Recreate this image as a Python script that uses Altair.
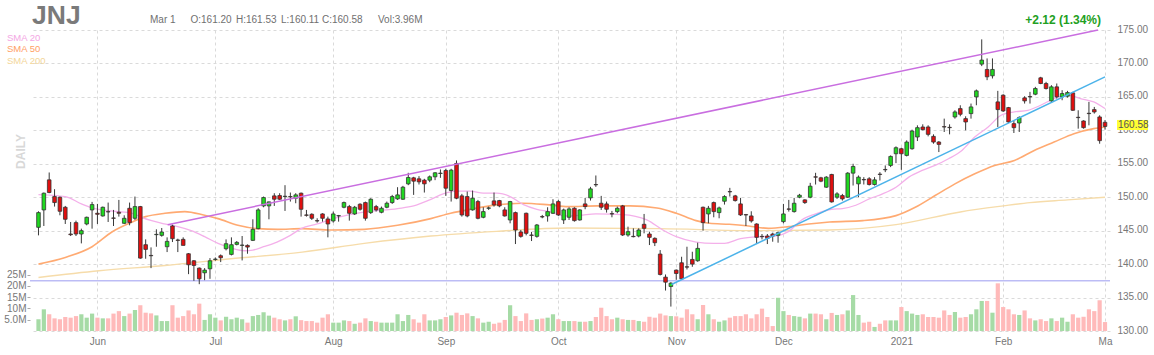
import altair as alt
import pandas as pd

FONT = "Liberation Sans, Arial, Helvetica, sans-serif"

# ---------------- data ----------------
opens = [145.5, 148.1, 152.6, 150.1, 150.0, 148.5, 144.5, 146.2, 144.5, 146.0,
         148.1, 147.6, 147.2, 147.85, 146.9, 147.75, 146.1, 148.35, 146.85, 148.6,
         142.9, 141.3, 144.4, 144.3, 142.6, 145.7, 143.6, 143.7, 141.55, 140.5,
         139.4, 138.7, 139.3, 140.7, 141.25, 142.3, 141.45, 142.95, 142.8, 142.8,
         143.55, 145.3, 148.7, 148.7, 150.2, 150.25, 150.1, 150.1, 149.85, 150.6,
         147.35, 147.45, 146.5, 147.5, 146.75, 146.45, 147.2, 148.5, 148.6, 147.5,
         148.95, 149.2, 147.7, 148.6, 147.75, 148.5, 149.2, 149.75, 149.7, 152.0,
         152.9, 152.75, 152.55, 152.55, 153.05, 153.55, 154.0, 151.0, 155.05, 150.2,
         150.1, 148.1, 149.35, 147.0, 148.35, 149.45, 149.5, 148.1, 146.6, 147.7,
         144.8, 147.6, 144.35, 144.15, 147.1, 147.2, 147.6, 149.35, 146.6, 147.0,
         148.35, 146.6, 149.0, 149.9, 151.9, 149.1, 149.0, 147.55, 147.85, 148.7,
         144.35, 144.15, 144.2, 145.95, 144.5, 143.85, 141.5, 138.05, 136.65, 139.1,
         140.2, 139.6, 140.7, 140.5, 148.5, 147.5, 149.2, 147.7, 149.4, 150.85,
         150.2, 149.0, 147.4, 147.2, 146.0, 144.15, 144.2, 144.5, 144.3, 146.35,
         148.25, 147.85, 150.0, 149.6, 150.0, 153.05, 152.9, 151.5, 153.4, 150.0,
         150.25, 150.0, 153.6, 152.0, 152.65, 152.75, 151.9, 153.45, 154.15, 154.75,
         156.5, 157.25, 156.25, 157.25, 159.0, 160.5, 160.5, 159.1, 158.25, 160.55,
         160.45, 162.0, 163.25, 161.75, 162.5, 165.0, 169.9, 169.1, 168.15, 164.25,
         165.25, 163.4, 161.0, 161.1, 164.85, 165.05, 165.4, 167.85, 167.0, 164.4,
         166.5, 165.0, 165.1, 165.6, 161.95, 161.4, 162.55, 163.1, 162.0, 161.20]
highs = [147.9, 150.7, 153.7, 151.2, 150.1, 148.7, 146.3, 146.5, 145.3, 147.1,
         149.3, 149.0, 148.6, 149.2, 148.1, 149.6, 147.3, 149.2, 150.1, 148.7,
         143.7, 142.5, 145.2, 145.4, 144.0, 145.9, 143.8, 144.0, 141.65, 140.6,
         139.5, 139.4, 140.9, 141.0, 141.45, 143.7, 144.0, 143.45, 144.2, 142.95,
         146.7, 148.35, 150.1, 149.35, 150.6, 150.6, 151.8, 150.7, 150.6, 150.7,
         148.1, 147.6, 146.85, 147.6, 147.1, 147.85, 147.35, 149.35, 148.85, 148.7,
         149.1, 149.35, 149.85, 148.85, 148.6, 149.35, 150.35, 151.5, 151.7, 153.65,
         153.05, 153.15, 152.75, 153.25, 153.75, 154.15, 154.25, 154.25, 155.5, 150.5,
         150.85, 151.0, 149.6, 148.5, 148.6, 150.7, 149.6, 148.5, 149.45, 147.85,
         145.1, 147.7, 144.8, 146.0, 147.35, 148.5, 149.7, 149.6, 148.3, 148.5,
         148.5, 148.2, 149.9, 151.55, 153.25, 150.2, 149.35, 147.95, 148.6, 148.85,
         145.6, 145.35, 145.35, 147.5, 144.85, 144.0, 142.1, 138.45, 137.3, 139.2,
         141.1, 142.6, 141.85, 143.2, 148.6, 148.7, 149.35, 148.6, 150.3, 151.4,
         150.35, 149.9, 147.5, 147.9, 146.1, 144.5, 144.5, 144.7, 144.85, 149.0,
         149.6, 149.9, 150.5, 149.7, 152.15, 153.65, 153.05, 153.15, 153.5, 150.75,
         150.5, 153.75, 155.0, 153.25, 153.0, 153.0, 153.0, 153.75, 154.75, 156.25,
         157.6, 157.4, 158.5, 160.1, 160.75, 160.9, 160.75, 159.4, 158.4, 161.75,
         160.9, 163.0, 163.75, 162.1, 164.0, 166.1, 173.6, 170.75, 170.75, 165.9,
         165.4, 163.5, 161.4, 162.1, 165.1, 165.75, 166.5, 168.0, 167.25, 166.75,
         167.0, 166.0, 165.9, 165.75, 163.0, 161.5, 164.25, 163.5, 162.25, 161.53]
lows = [144.3, 145.7, 150.6, 148.6, 147.3, 146.0, 144.2, 144.2, 143.1, 145.8,
        145.3, 146.0, 147.1, 146.3, 145.7, 147.1, 146.0, 145.8, 146.6, 140.8,
        140.8, 139.4, 142.6, 144.1, 141.8, 143.3, 141.8, 142.8, 138.5, 137.5,
        137.0, 137.6, 137.8, 140.5, 140.3, 142.05, 141.3, 142.8, 140.55, 141.55,
        143.45, 145.2, 148.5, 146.7, 148.7, 149.6, 147.95, 149.35, 149.1, 147.1,
        147.1, 146.6, 146.2, 146.35, 144.0, 146.2, 146.35, 148.35, 146.5, 147.35,
        148.0, 146.5, 147.5, 147.85, 147.6, 148.35, 149.0, 149.6, 149.6, 151.8,
        150.35, 151.9, 150.7, 152.25, 152.55, 152.9, 150.2, 149.35, 149.7, 147.1,
        147.0, 148.0, 146.7, 146.85, 148.1, 148.6, 148.5, 147.1, 146.1, 143.0,
        143.95, 144.3, 143.45, 143.95, 146.85, 146.35, 147.5, 147.2, 146.0, 146.6,
        146.35, 146.5, 148.2, 149.5, 151.55, 148.1, 147.7, 147.0, 147.6, 144.2,
        144.1, 144.0, 144.0, 144.6, 142.85, 142.7, 138.3, 136.05, 133.65, 137.65,
        137.65, 139.2, 139.6, 140.35, 145.0, 146.1, 147.0, 146.85, 148.9, 150.1,
        149.35, 147.2, 145.7, 146.2, 143.0, 143.7, 143.0, 143.35, 143.2, 146.1,
        147.85, 147.7, 149.85, 149.0, 149.85, 151.9, 152.25, 151.4, 149.2, 149.75,
        149.5, 149.9, 151.75, 150.0, 151.9, 151.75, 151.75, 152.5, 153.75, 154.5,
        155.1, 154.1, 156.1, 157.1, 158.4, 160.0, 159.1, 158.0, 156.75, 159.75,
        159.4, 161.75, 162.1, 160.0, 161.75, 163.75, 169.6, 167.5, 167.75, 160.5,
        162.75, 161.1, 159.6, 159.75, 164.0, 164.0, 165.25, 166.9, 166.1, 164.25,
        164.75, 164.5, 164.9, 162.9, 160.25, 160.25, 160.75, 162.5, 158.0, 160.11]
closes = [147.7, 150.6, 150.7, 149.2, 147.9, 146.7, 144.4, 144.5, 145.0, 147.0,
          148.9, 147.45, 148.5, 147.8, 146.85, 147.6, 146.85, 146.2, 148.6, 140.9,
          142.2, 141.25, 144.45, 144.8, 143.4, 143.8, 143.55, 142.8, 139.9, 139.8,
          137.8, 139.1, 140.5, 140.75, 140.95, 143.05, 142.9, 143.25, 142.85, 142.55,
          145.2, 148.1, 149.95, 149.3, 149.7, 149.7, 150.15, 150.05, 150.35, 148.2,
          147.3, 146.85, 146.45, 146.85, 146.0, 147.5, 147.25, 149.2, 147.6, 148.5,
          148.2, 146.85, 149.7, 148.1, 148.35, 149.1, 150.1, 150.35, 151.5, 152.95,
          152.4, 152.3, 152.0, 153.05, 153.65, 153.6, 151.35, 154.05, 149.85, 147.35,
          147.2, 149.85, 146.85, 147.85, 148.4, 148.85, 148.7, 147.2, 149.35, 145.1,
          144.15, 144.6, 144.3, 145.85, 147.05, 147.85, 149.0, 147.35, 148.1, 148.25,
          146.5, 148.1, 148.6, 151.25, 151.85, 148.5, 148.2, 147.5, 148.35, 144.35,
          144.85, 144.1, 145.1, 145.35, 144.0, 143.2, 138.45, 137.3, 137.15, 138.6,
          137.8, 139.55, 140.0, 142.35, 146.2, 148.35, 147.85, 148.4, 150.1, 150.8,
          149.5, 147.35, 147.35, 146.45, 144.0, 144.1, 143.85, 144.2, 144.7, 147.5,
          148.2, 149.1, 150.3, 149.2, 151.65, 153.0, 152.4, 153.0, 149.3, 150.5,
          149.75, 153.6, 154.6, 153.0, 152.6, 151.9, 152.6, 153.4, 154.1, 156.1,
          157.4, 156.5, 158.25, 159.9, 160.4, 160.1, 159.4, 158.25, 157.9, 160.5,
          160.4, 162.75, 162.4, 161.25, 163.5, 165.9, 170.5, 168.0, 169.1, 163.1,
          162.9, 161.25, 160.4, 161.9, 164.4, 165.0, 166.25, 167.0, 166.25, 166.5,
          165.0, 165.5, 165.65, 163.0, 161.9, 160.4, 162.5, 162.75, 158.46, 160.58]
volumes_m = [5.2, 9.6, 7.4, 5.6, 5.2, 6.2, 5.9, 6.6, 7.4, 5.9,
             7.7, 5.9, 5.6, 5.6, 7.7, 8.8, 6.6, 7.7, 9.3, 11.4,
             8.1, 7.8, 6.9, 4.4, 4.4, 11.4, 5.9, 6.6, 9.1, 7.4,
             12.1, 4.9, 7.4, 5.9, 4.7, 6.3, 5.2, 5.9, 5.2, 3.7,
             6.6, 7.1, 8.3, 6.8, 5.9, 5.2, 4.7, 5.2, 6.5, 4.8,
             4.4, 4.4, 3.7, 5.9, 7.4, 3.7, 3.7, 4.7, 4.4, 3.2,
             3.7, 5.6, 4.4, 4.1, 3.7, 3.7, 3.7, 7.4, 4.4, 7.1,
             5.2, 3.7, 7.4, 4.7, 4.7, 5.2, 6.2, 6.9, 8.1, 7.1,
             7.8, 6.6, 5.6, 3.7, 4.1, 3.2, 3.7, 4.9, 11.4, 6.6,
             4.4, 7.8, 4.9, 5.2, 5.5, 5.9, 7.4, 5.2, 4.4, 4.4,
             4.4, 4.1, 4.1, 4.4, 6.2, 10.3, 6.6, 5.2, 5.9, 5.2,
             4.9, 4.9, 4.4, 4.1, 6.3, 5.9, 7.7, 6.9, 6.6, 6.5,
             5.9, 9.6, 7.4, 5.2, 11.5, 7.4, 5.2, 4.1, 4.7, 5.9,
             6.6, 6.6, 7.4, 5.6, 7.4, 9.9, 6.2, 2.2, 14.7, 8.8,
             7.1, 6.6, 6.3, 5.6, 7.7, 7.7, 7.4, 5.2, 8.0, 7.1,
             7.4, 9.1, 15.9, 7.1, 3.7, 4.1, 1.8, 3.2, 4.7, 4.7,
             4.7, 10.6, 8.8, 7.7, 7.1, 7.4, 6.2, 6.2, 5.9, 9.1,
             7.1, 8.4, 5.9, 6.2, 7.4, 9.6, 13.3, 13.3, 8.1, 21.1,
             10.6, 9.6, 7.4, 7.1, 9.1, 5.6, 4.7, 5.2, 4.4, 5.6,
             4.4, 5.9, 4.1, 7.4, 5.9, 6.3, 9.6, 8.8, 13.6, 3.96]

# moving averages (day index, price)
sma20_x = [0, 5, 8, 10, 14, 17.5, 19.5, 23.5, 26, 28.5, 31, 33.5, 36, 38.5, 40, 42, 44.5, 47, 49, 52,
           55, 61, 67, 70, 73, 75.5, 78, 80.5, 83, 85.5, 88, 90.5, 93, 95.5, 98, 101, 104, 109, 113.5, 116.5,
           119, 122.7, 126, 128, 131, 135, 137.5, 140, 142.4, 145, 148, 150, 152.5, 155, 157.5, 160, 162.4,
           164.9, 167.3, 169.8, 172.3, 174.7, 177.2, 179.6, 182.1, 184.6, 187, 189.5, 192, 194.4, 196.9, 199]
sma20_v = [150.4, 150.1, 149.0, 148.4, 147.9, 147.6, 146.9, 146.0, 145.6, 145.0, 144.1, 143.1, 142.4, 142.0,
           142.1, 142.6, 143.3, 144.3, 145.3, 146.0, 146.8, 147.8, 148.3, 148.7, 149.6, 150.5, 150.9, 150.9,
           150.6, 150.6, 150.1, 148.9, 148.2, 147.8, 147.2, 147.3, 147.5, 147.4, 146.6, 145.1, 144.1, 143.3,
           143.1, 143.1, 143.8, 144.1, 144.2, 144.9, 146.6, 147.5, 148.2, 148.3, 148.8, 149.75, 150.5, 151.5,
           153.0, 154.0, 154.75, 155.75, 157.0, 159.0, 160.5, 162.25, 162.75, 163.0, 163.75, 164.75, 165.25,
           164.75, 164.25, 163.25]
sma50_x = [0, 5, 10, 13.7, 17.5, 20, 23.6, 27.3, 31, 33.5, 37.2, 40.9, 44.6, 49.2, 54.7, 60.8, 67, 73.2,
           76.9, 80.6, 85.5, 90.4, 95.3, 98.8, 104.3, 110.4, 115.4, 119, 122.7, 125.2, 128.9, 132.5, 136.2,
           140, 143.7, 147.6, 153.8, 160, 163.6, 167.3, 171, 174.7, 178.4, 182.1, 185.8, 189.5, 193.2, 196.9, 199]
sma50_v = [140.0, 141.0, 142.6, 144.8, 146.3, 147.1, 147.6, 147.85, 147.3, 146.8, 145.8, 145.3, 145.2, 145.3,
           145.1, 145.2, 145.8, 146.8, 147.6, 148.2, 148.85, 149.1, 148.85, 148.6, 148.7, 148.7, 148.4, 147.6,
           146.5, 146.1, 145.95, 145.7, 145.35, 145.6, 146.0, 146.3, 146.5, 147.25, 148.5, 150.25, 152.0,
           153.5, 154.75, 155.5, 157.0, 158.25, 159.5, 160.25, 160.5]
sma200_x = [0, 11.3, 23.6, 35.9, 49.2, 60.8, 73.2, 85.5, 98.8, 116, 134, 147.6, 160, 172, 180, 185, 192, 199]
sma200_v = [138.0, 139.0, 139.8, 140.8, 141.8, 143.1, 144.2, 144.9, 145.4, 145.3, 145.0, 145.1, 145.9,
            147.8, 148.7, 149.2, 149.6, 150.0]

# drawn lines
upper_trend_x = [24.1, 197.7]
upper_trend_v = [145.9, 175.0]
lower_trend_x = [118.1, 199.0]
lower_trend_v = [136.95, 168.0]
support_level = [137.5]

month_ticks = [11, 33, 55, 76, 97, 119, 139, 161, 180, 199]
month_labels = ["Jun", "Jul", "Aug", "Sep", "Oct", "Nov", "Dec", "2021", "Feb", "Ma"]
price_ticks = [130, 135, 140, 145, 150, 155, 160, 165, 170, 175]
vol_ticks = [5, 10, 15, 20, 25]

last_close = "160.58"

# ---------------- build ----------------
n = len(closes)
assert all(len(a) == n for a in (opens, highs, lows, volumes_m)), [len(a) for a in (opens, highs, lows, closes, volumes_m)]

df = pd.DataFrame({
    "i": list(range(n)), "open": opens, "high": highs, "low": lows, "close": closes, "vol": volumes_m,
})
df["ccol"] = ["#1fd81f" if c >= o else "#e00f0f" for o, c in zip(opens, closes)]
df["vcol"] = ["#a6dba6" if c >= o else "#ffbaba" for o, c in zip(opens, closes)]

W, H = 1080, 301
OX, OY = 30, 30

xscale = alt.Scale(domain=[-0.65, 199], nice=False, zero=False)
pscale = alt.Scale(domain=[130, 175], nice=False, zero=False)
vscale = alt.Scale(domain=[0, 133.2], nice=False, zero=True)

label_expr = "".join(f"datum.value == {t} ? '{l}' : " for t, l in zip(month_ticks, month_labels)) + "''"

x_axis = alt.Axis(values=month_ticks, labelExpr=label_expr, title=None, grid=True, gridColor="#dadada",
                  gridDash=[3, 3], gridWidth=1, domain=False, ticks=False, labelColor="#777777",
                  labelFont=FONT, labelFontSize=10, labelPadding=5, labelFlush=False, labelOverlap=False)
p_axis = alt.Axis(orient="right", values=price_ticks, format=".2f", title=None, grid=True,
                  gridColor="#dadada", gridDash=[3, 3], gridWidth=1, domain=False, ticks=False,
                  labelColor="#777777", labelFont=FONT, labelFontSize=10, labelPadding=7,
                  labelOffset=-1, labelFlush=False, labelOverlap=False)
v_axis = alt.Axis(orient="left", values=vol_ticks,
                  labelExpr="datum.value == 5 ? '5.0M' : datum.value + 'M'", title=None, grid=False,
                  domain=False, ticks=True, tickSize=3, tickColor="#aaaaaa", labelColor="#777777",
                  labelFont=FONT, labelFontSize=10, labelPadding=1, labelFlush=False, labelOverlap=False)

X = alt.X("i:Q", scale=xscale, axis=x_axis)


def PY(field):
    return alt.Y(field, type="quantitative", scale=pscale, axis=p_axis)


vol = alt.Chart(df).mark_bar(size=4.2).encode(
    x=X, y=alt.Y("vol:Q", scale=vscale, axis=v_axis), color=alt.Color("vcol:N", scale=None))


def line(xs, vs, color, w):
    d = pd.DataFrame({"i": xs, "v": vs})
    return alt.Chart(d).mark_line(color=color, strokeWidth=w, interpolate="monotone").encode(x=X, y=PY("v"))


sma200 = line(sma200_x, sma200_v, "#f6dcaa", 1.4)
sma50 = line(sma50_x, sma50_v, "#ffaa72", 1.6)
sma20 = line(sma20_x, sma20_v, "#f4b0ea", 1.3)

hline = alt.Chart(pd.DataFrame({"v": support_level})).mark_rule(color="#9c9cf0", strokeWidth=1).encode(y=PY("v"))

wick = alt.Chart(df).mark_rule(color="#383838", strokeWidth=1).encode(x=X, y=PY("low"), y2=alt.Y2("high"))
body = alt.Chart(df).mark_bar(size=3.6, stroke="#333333", strokeWidth=0.8).encode(
    x=X, y=PY("open"), y2=alt.Y2("close"), color=alt.Color("ccol:N", scale=None))

upper = alt.Chart(pd.DataFrame({"i": upper_trend_x, "v": upper_trend_v})).mark_line(
    color="#c96ee0", strokeWidth=1.5).encode(x=X, y=PY("v"))
lower = alt.Chart(pd.DataFrame({"i": lower_trend_x, "v": lower_trend_v})).mark_line(
    color="#4cb3ea", strokeWidth=1.5).encode(x=X, y=PY("v"))

tag = pd.DataFrame({"top": [161.55], "bot": [160.05], "mid": [160.8], "t": [last_close]})
tag_box = alt.Chart(tag).mark_rect(color="#ffff33").encode(
    x=alt.value(1087), x2=alt.value(1118), y=PY("top"), y2=alt.Y2("bot"))
tag_txt = alt.Chart(tag).mark_text(align="left", baseline="middle", fontSize=10, color="#555555",
                                   font=FONT).encode(x=alt.value(1088), y=PY("mid"), text="t:N")

price = alt.layer(sma200, sma50, sma20, hline, wick, body, upper, lower, tag_box, tag_txt)


def txt(s, x, y, size=10, color="#777777", weight="normal", align="left", baseline="alphabetic", angle=0):
    return alt.Chart(pd.DataFrame({"t": [s]})).mark_text(
        align=align, baseline=baseline, fontSize=size, fontWeight=weight, color=color, font=FONT,
        angle=angle).encode(x=alt.value(x - OX), y=alt.value(y - OY), text="t:N")


texts = [
    txt("JNJ", 32, 23.5, size=26.5, color="#7a7a7a", weight="bold"),
    txt("Mar 1", 150, 22.7, color="#707070"),
    txt("O:161.20", 190.5, 22.7, color="#707070"),
    txt("H:161.53", 236, 22.7, color="#707070"),
    txt("L:160.11", 281, 22.7, color="#707070"),
    txt("C:160.58", 322, 22.7, color="#707070"),
    txt("Vol:3.96M", 378, 22.7, color="#707070"),
    txt("+2.12 (1.34%)", 1101, 23.7, size=12, color="#22a022", weight="bold", align="right"),
    txt("SMA 20", 7, 40.5, size=9.5, color="#f4a6e4"),
    txt("SMA 50", 7, 52, size=9.5, color="#ffa066"),
    txt("SMA 200", 7, 63.5, size=9.5, color="#f3d699"),
    txt("DAILY", 20.5, 151.5, size=12, color="#d8d8d8", weight="bold", align="center",
        baseline="middle", angle=270),
]

chart = alt.layer(vol, price, *texts).resolve_scale(y="independent").properties(
    width=W, height=H,
    padding={"left": OX, "top": OY, "right": 1154 - OX - W, "bottom": 355 - OY - H},
    autosize=alt.AutoSizeParams(type="none"),
    background="white",
).configure_view(stroke=None)

chart.save("out.html", embed_options={"renderer": "svg", "actions": False})
